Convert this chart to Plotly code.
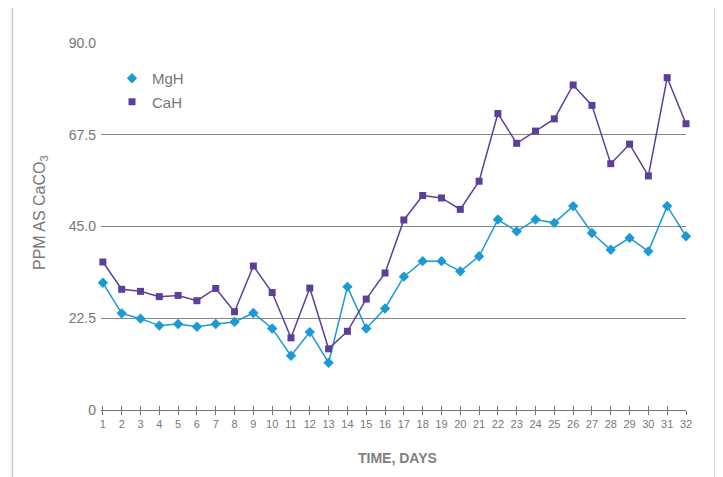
import plotly.graph_objects as go

days = list(range(1, 33))
mgh = [31.2, 23.7, 22.4, 20.7, 21.1, 20.4, 21.1, 21.6, 23.8, 20.0, 13.3, 19.1, 11.6, 30.2, 20.0, 24.9,
       32.7, 36.5, 36.5, 34.0, 37.7, 46.7, 43.8, 46.7, 45.9, 50.0, 43.4, 39.3, 42.2, 38.9, 50.0, 42.6]
cah = [36.3, 29.6, 29.1, 27.8, 28.1, 26.8, 29.8, 24.1, 35.3, 28.8, 17.7, 29.9, 15.0, 19.3, 27.2, 33.6,
       46.6, 52.6, 52.0, 49.2, 56.1, 72.7, 65.4, 68.4, 71.4, 79.7, 74.7, 60.4, 65.2, 57.4, 81.5, 70.2]
y_tickvals = [0, 22.5, 45, 67.5, 90]
y_ticktext = ["0", "22.5", "45.0", "67.5", "90.0"]

BLUE = "#1b9ad6"
PURPLE = "#5b3f9b"
GRAY = "#777777"

# page body has an 8px margin: work in page pixel coords and convert
OFF = 8
W, H = 723 - OFF, 477 - OFF
L, T = 101 - OFF, 43 - OFF
R = W - (686 - OFF)
B = H - (410 - OFF)
pw, ph = W - L - R, H - T - B

def px(x):
    return (x - OFF - L) / pw

def py(y):
    return (H - B - (y - OFF)) / ph

fig = go.Figure()
fig.add_trace(go.Scatter(x=days, y=mgh, name="MgH", mode="lines+markers", showlegend=False,
                         line=dict(color=BLUE, width=1.5),
                         marker=dict(symbol="diamond", size=8, color=BLUE), cliponaxis=False))
fig.add_trace(go.Scatter(x=days, y=cah, name="CaH", mode="lines+markers", showlegend=False,
                         line=dict(color=PURPLE, width=1.5),
                         marker=dict(symbol="square", size=7, color=PURPLE), cliponaxis=False))
# legend entries (markers only, as in the reference)
fig.add_trace(go.Scatter(x=[None], y=[None], name="MgH", mode="markers", legendgroup="a",
                         marker=dict(symbol="diamond", size=8, color=BLUE)))
fig.add_trace(go.Scatter(x=[None], y=[None], name="CaH", mode="markers", legendgroup="b",
                         marker=dict(symbol="square", size=7, color=PURPLE)))
fig.add_trace(go.Scatter(x=[None], y=[None], xaxis="x2", showlegend=False, hoverinfo="skip",
                         mode="markers"))

fig.update_layout(
    width=W, height=H,
    margin=dict(l=L, r=R, t=T, b=B),
    paper_bgcolor="white", plot_bgcolor="white",
    font=dict(family="Liberation Sans, Arial, sans-serif", color=GRAY),
    showlegend=True,
    legend=dict(x=px(112), y=py(62), xanchor="left", yanchor="top",
                font=dict(size=15, color=GRAY), bgcolor="rgba(0,0,0,0)",
                traceorder="grouped", tracegroupgap=1, itemsizing="trace"),
    xaxis=dict(range=[0.9, 32], tickmode="array", tickvals=days, ticktext=[str(d) for d in days],
               showgrid=False, zeroline=False, showline=True, linecolor="#777777", linewidth=1,
               ticks="outside", ticklen=4, tickcolor="#777777", tickwidth=1,
               tickfont=dict(size=11, color="#777777")),
    xaxis2=dict(range=[0.9, 32], overlaying="x", anchor="y", matches="x",
                tickmode="array", tickvals=days, showticklabels=False,
                showgrid=False, zeroline=False, showline=False,
                ticks="inside", ticklen=4, tickcolor="#777777", tickwidth=1),
    yaxis=dict(range=[0, 90], tickmode="array", tickvals=y_tickvals, ticktext=y_ticktext,
               showgrid=True, gridcolor="#858585", gridwidth=1, zeroline=False, showline=False,
               tickfont=dict(size=14, color="#777777"), ticks="", ticklabelstandoff=4),
    shapes=[dict(type="path", xref="paper", yref="paper",
                 path=f"M {px(12.5)} {py(485)} L {px(12.5)} {py(5.5)} L {px(715)} {py(5.5)} L {px(715)} {py(485)}",
                 line=dict(color="#c8c8c8", width=1.5))],
    annotations=[
        dict(text="PPM AS CaCO<sub>3</sub>", xref="paper", yref="paper", x=px(41), y=py(213),
             textangle=-90, showarrow=False, font=dict(size=16, color="#777777"),
             xanchor="center", yanchor="middle"),
        dict(text="<b>TIME, DAYS</b>", xref="paper", yref="paper", x=px(397), y=py(458),
             showarrow=False, font=dict(size=14, color="#808080"),
             xanchor="center", yanchor="middle"),
    ],
)

fig.write_html("out.html")
